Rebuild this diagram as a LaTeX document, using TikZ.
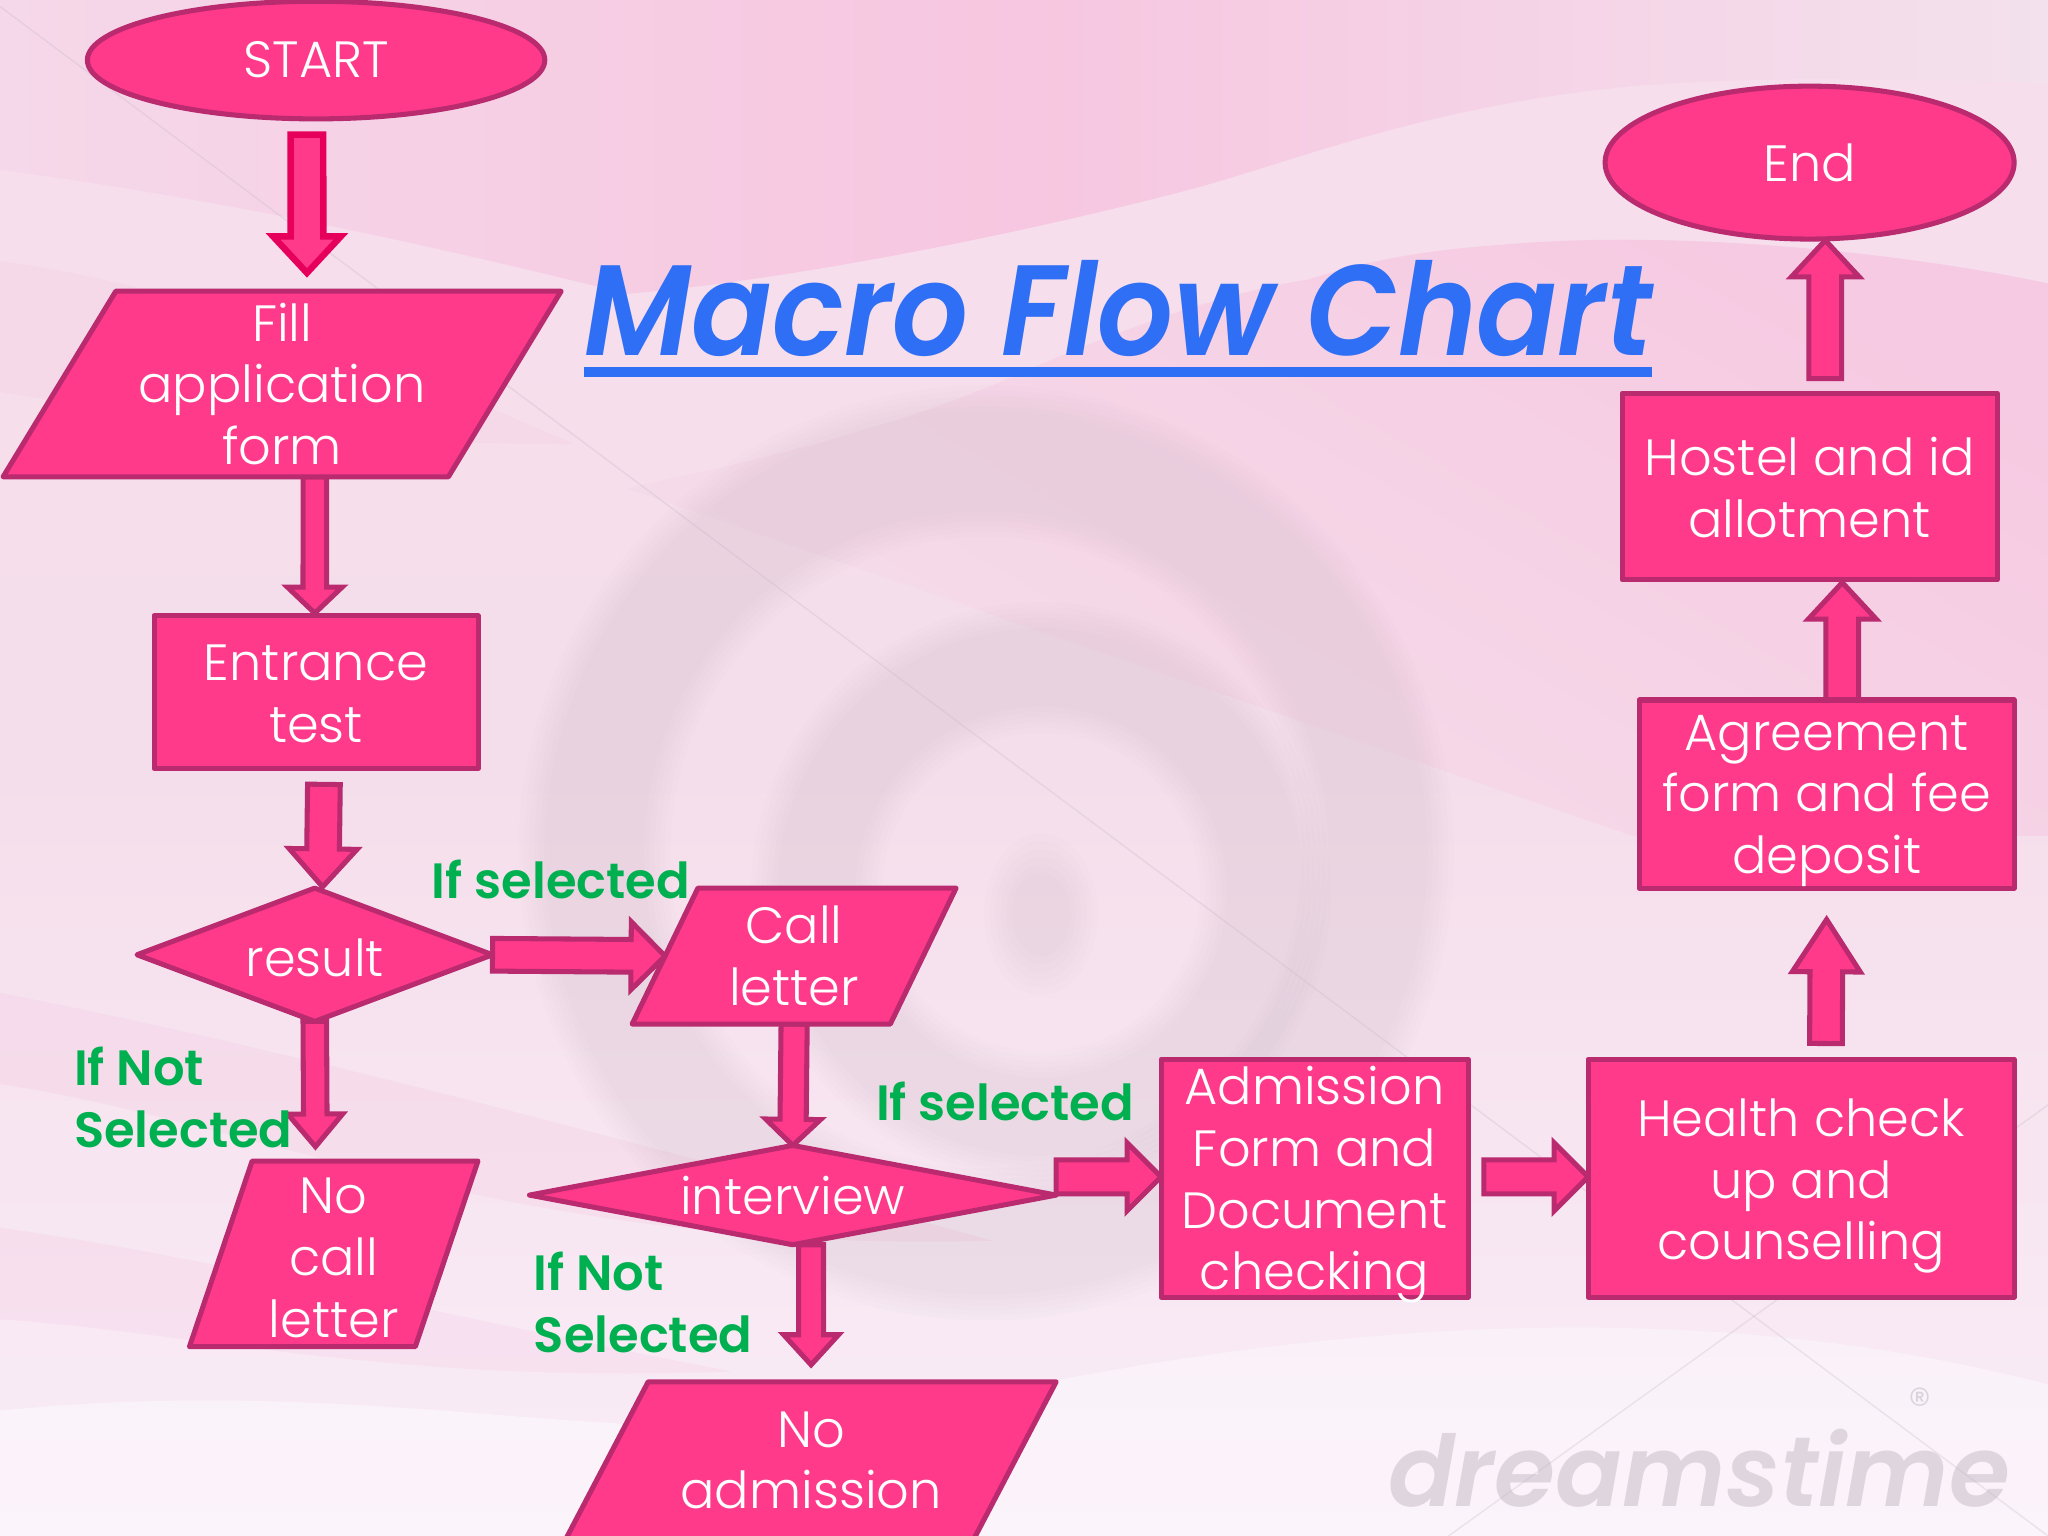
\documentclass[tikz,border=0pt]{standalone}
\usepackage{fontspec}
\setmainfont{Poppins}[UprightFont=* Light,BoldFont=* SemiBold,ItalicFont=* Italic,BoldItalicFont=* SemiBold Italic]
\usetikzlibrary{shapes.geometric,calc}
\pgfdeclarelayer{back}\pgfdeclarelayer{arrows}
\pgfsetlayers{back,arrows,main}
\definecolor{pinkfill}{HTML}{FF3A8A}
\definecolor{pinkline}{HTML}{B92A6F}
\definecolor{crimson}{HTML}{E6005C}
\definecolor{labelgreen}{HTML}{00B050}
\definecolor{titleblue}{HTML}{2F6FF5}
\definecolor{bgtop}{HTML}{F7DEEC}
\definecolor{bgmid}{HTML}{F5DEEB}
\definecolor{bgbot}{HTML}{F9EDF7}
\definecolor{swirl}{HTML}{C4B8C6}
\definecolor{wavepink}{HTML}{F3BEDB}
\definecolor{topleft}{HTML}{F5D8E9}
\definecolor{topmid}{HTML}{F7C6E0}
\definecolor{topright}{HTML}{F3E1ED}
\definecolor{rightupper}{HTML}{F6CAE2}
\tikzset{
  flow/.style={fill=pinkfill,draw=pinkline,line width=1.1pt,line join=round,text=white,align=center,inner sep=0pt,outer sep=0pt,font=\fontsize{11.1}{13.4}\selectfont},
  boxnode/.style={flow,rectangle},
  termnode/.style={flow,ellipse},
  decnode/.style={flow,diamond},
  paranode/.style={flow,trapezium,trapezium stretches=true},
  arrowshape/.style={fill=pinkfill,draw=pinkline,line width=1.1pt,line join=miter},
  firstarrow/.style={arrowshape,draw=crimson,line width=1.4pt},
  lbl/.style={text=labelgreen,font=\bfseries\fontsize{10.8}{13.4}\selectfont,align=left,anchor=west,inner sep=0pt},
  pinkwave/.style={fill=wavepink,opacity=0.2},
  hairline/.style={draw=swirl,opacity=0.3,line width=0.3pt}
}
\newcommand{\dn}[1]{\rule{0pt}{#1pt}}
% #1 style, #2 from, #3 to, #4 half shaft, #5 half head, #6 head length
\newcommand{\blockarrow}[6][arrowshape]{%
  \path (#2) coordinate (ba) (#3) coordinate (bb);
  \path ($(bb)!#6!(ba)$) coordinate (bm);
  \draw[#1] ($(ba)!#4!90:(bb)$) -- ($(bm)!#4!90:(bb)$) -- ($(bm)!#5!90:(bb)$) -- (bb)
    -- ($(bm)!#5!-90:(bb)$) -- ($(bm)!#4!-90:(bb)$) -- ($(ba)!#4!-90:(bb)$) -- cycle;
}
\begin{document}
\begin{tikzpicture}[x=0.01cm,y=-0.01cm]
\useasboundingbox (0,0) rectangle (1568,1176);
\begin{pgfonlayer}{back}
  \clip (0,0) rectangle (1568,1176);
  \shade[top color=bgtop,bottom color=bgbot,middle color=bgmid] (0,0) rectangle (1568,1176);
  % upper pink band, above the light wave
  \shade[left color=topleft,right color=topright,middle color=topmid]
    (0,0) -- (1568,0) -- (1568,64) .. controls (1450,60) and (1350,58) .. (1250,66)
    .. controls (1100,80) and (1000,120) .. (919,143) .. controls (780,180) and (600,215) .. (480,225)
    .. controls (300,180) and (150,150) .. (0,130) -- cycle;
  % right pink region, below the light wave: fades out towards the lower left
  \shade[top color=rightupper,bottom color=bgmid,shading angle=-30]
    (480,374) .. controls (540,360) and (650,340) .. (760,295) .. controls (850,255) and (930,225) .. (1002,214)
    .. controls (1060,195) and (1110,190) .. (1168,186) .. controls (1280,178) and (1440,190) .. (1568,217)
    -- (1568,640) -- (1250,640) -- cycle;
  % left and lower waves
  \fill[wavepink,opacity=0.15] (0,200) .. controls (150,220) and (300,280) .. (440,340) .. controls (250,340) and (120,320) .. (0,300) -- cycle;
  \fill[pinkwave] (0,760) .. controls (200,800) and (400,850) .. (760,950) .. controls (400,960) and (200,860) .. (0,830) -- cycle;
  \fill[pinkwave] (0,940) .. controls (150,960) and (350,1010) .. (560,1050) .. controls (300,1060) and (150,1020) .. (0,1010) -- cycle;
  \fill[white,opacity=0.4] (0,1176) -- (0,1080) .. controls (300,1050) and (500,1120) .. (700,1080) .. controls (1000,1010) and (1300,990) .. (1568,1060) -- (1568,1176) -- cycle;
  % swirl
  \foreach \w in {116,108,100,92,84,76}{
    \draw[swirl,opacity=0.04,line width=\w*0.01cm] (755,653) circle [radius=300];
  }
  \foreach \w in {100,92,84,76,68,60}{
    \draw[swirl,opacity=0.04,line width=\w*0.01cm] (797,683) circle [radius=172];
  }
  \foreach \r in {62,56,50,44,38,32}{
    \fill[swirl,opacity=0.04] (797,700) ellipse [x radius=\r*0.7,y radius=\r];
  }
  % thin diagonal lines
  \draw[hairline] (0,5) -- (1568,1176);
  \draw[hairline] (1568,846) -- (1109,1176);
  % watermark
  \node[text=swirl,opacity=0.5,font=\bfseries\itshape\fontsize{21.5}{22}\selectfont,inner sep=0pt,anchor=west] (mark) at (1062,1124) {dreamstime};
  \node[text=swirl,opacity=0.55,font=\fontsize{10}{10}\selectfont,inner sep=0pt] (markr) at (1470,1075) {®};
\end{pgfonlayer}

% title
\node[text=titleblue,font=\bfseries\itshape\fontsize{28}{30}\selectfont,inner sep=0pt,anchor=base west,xscale=0.928] (title) at (447,272) {Macro Flow Chart};
\fill[titleblue] (447,281) rectangle (1265,289);

% nodes
\node[termnode,minimum width=3.50cm,minimum height=0.90cm] (start) at (242,46) {START};
\node[paranode,minimum width=4.27cm,minimum height=1.42cm,trapezium left angle=59,trapezium right angle=121] (fillform) at (216,294) {Fill\\application\\form};
\node[boxnode,minimum width=2.48cm,minimum height=1.17cm] (entrance) at (242,530) {\dn{8.4}Entrance\\test};
\node[decnode,aspect=2.67,minimum width=2.72cm,minimum height=1.02cm] (result) at (241,731) {\dn{9.6}result};
\node[paranode,minimum width=2.21cm,minimum height=1.42cm,trapezium left angle=73.4,trapezium right angle=106.6] (nocall) at (255.5,960) {\dn{9.5}No\\call\\letter};
\node[paranode,minimum width=2.48cm,minimum height=1.04cm,trapezium left angle=66,trapezium right angle=114] (call) at (608,732) {Call\\letter};
\node[decnode,aspect=5.3,minimum width=4.03cm,minimum height=0.76cm] (interview) at (607,915) {interview};
\node[paranode,minimum width=3.78cm,minimum height=1.20cm,trapezium left angle=56,trapezium right angle=124] (noadm) at (621,1118) {No\\admission};
\node[boxnode,minimum width=2.35cm,minimum height=1.82cm] (adm) at (1006.5,902) {Admission\\Form and\\Document\\\smash{checking}};
\node[boxnode,minimum width=3.26cm,minimum height=1.82cm] (health) at (1379,902) {\dn{11.7}Health check\\up and\\counselling};
\node[boxnode,minimum width=2.87cm,minimum height=1.44cm] (agree) at (1398.5,608) {Agreement\\form and fee\\\smash{deposit}};
\node[boxnode,minimum width=2.87cm,minimum height=1.43cm] (hostel) at (1385.5,372.5) {\dn{8.9}Hostel and id\\allotment};
\node[termnode,minimum width=3.13cm,minimum height=1.17cm] (end) at (1385.5,124.5) {End};

% labels
\node[lbl] (l1) at (330,673) {If selected};
\node[lbl] (l2) at (56,840) {If Not\\Selected};
\node[lbl] (l3) at (670,843) {If selected};
\node[lbl] (l4) at (408,997) {If Not\\Selected};

% connectors
\begin{pgfonlayer}{arrows}
\blockarrow[firstarrow]{$(start.south)+(-7,12)$}{$(fillform.north)+(19,-14)$}{0.125cm}{0.26cm}{0.28cm}
\blockarrow{$(fillform.south)+(25,0)$}{$(entrance.north)+(-1,-2)$}{0.09cm}{0.21cm}{0.20cm}
\blockarrow{$(entrance.south)+(6,12)$}{$(result.north)+(6,-1)$}{0.125cm}{0.26cm}{0.29cm}
\blockarrow{result.east}{call.west}{0.125cm}{0.26cm}{0.26cm}
\blockarrow{result.south}{$(nocall.north)+(-14,-11)$}{0.09cm}{0.21cm}{0.25cm}
\blockarrow{call.south}{interview.north}{0.10cm}{0.21cm}{0.20cm}
\blockarrow{$(interview.east)+(0,-14)$}{$(adm.west)+(0,-1)$}{0.13cm}{0.26cm}{0.26cm}
\blockarrow{$(interview.south)+(14,0)$}{$(noadm.north)+(0,-13)$}{0.095cm}{0.21cm}{0.23cm}
\blockarrow{$(adm.east)+(12,-1)$}{$(health.west)+(0,-1)$}{0.13cm}{0.26cm}{0.26cm}
\blockarrow{$(health.north)+(19,-12)$}{$(agree.south)+(0,24)$}{0.125cm}{0.26cm}{0.40cm}
\blockarrow{$(agree.north)+(12,0)$}{$(hostel.south)+(25,2)$}{0.125cm}{0.26cm}{0.28cm}
\blockarrow{$(hostel.north)+(12,-11)$}{$(end.south)+(12,1)$}{0.125cm}{0.26cm}{0.28cm}
\end{pgfonlayer}
\end{tikzpicture}
\end{document}
